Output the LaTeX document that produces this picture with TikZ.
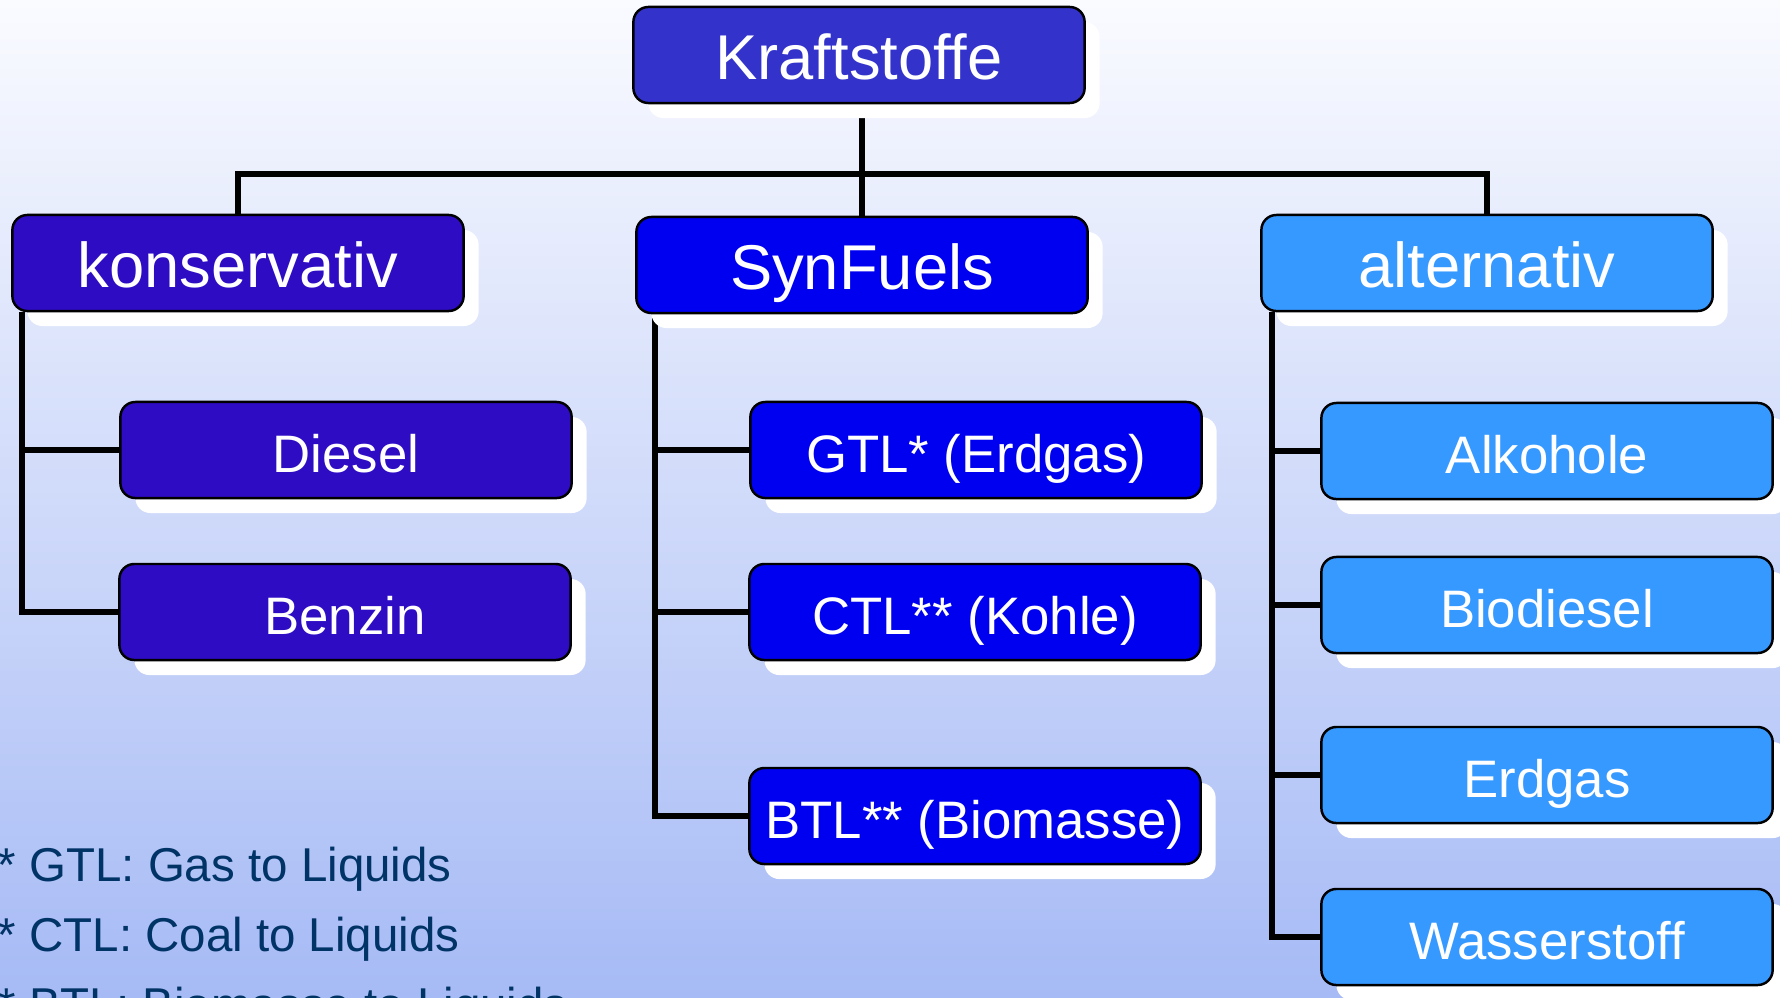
\documentclass[tikz,border=0pt]{standalone}
\usepackage{fontspec}
\setmainfont{Liberation Sans}
\usetikzlibrary{shadows}
\definecolor{kraftblue}{RGB}{51,51,204}
\definecolor{konsblue}{RGB}{46,12,196}
\definecolor{synblue}{RGB}{0,0,240}
\definecolor{altblue}{RGB}{54,153,255}
\definecolor{notenavy}{RGB}{0,51,102}
\definecolor{bgtop}{RGB}{250,251,255}
\definecolor{bgbottom}{RGB}{166,186,245}
\pgfdeclarelayer{bg}
\pgfdeclarelayer{lines}
\pgfsetlayers{bg,lines,main}

\begin{document}
\begin{tikzpicture}[x=0.01cm,y=-0.01cm,
	box/.style={draw=black,line width=0.7pt,rounded corners=0.15cm,text=white,
		minimum width=4.51cm,minimum height=0.96cm,inner sep=0pt,text depth=0pt,
		drop shadow={shadow xshift=0.15cm,shadow yshift=-0.15cm,fill=white,opacity=1}},
	head/.style={box,text height=13.8pt,font=\fontsize{18}{22}\selectfont},
	item/.style={box,text height=12.9pt,font=\fontsize{15}{18}\selectfont},
	link/.style={line width=1.8pt},
	note/.style={anchor=base west,inner sep=0pt,text=notenavy,font=\fontsize{13.5}{16}\selectfont}]
	\useasboundingbox (0,0) rectangle (1780,997);
	\clip (0,0) rectangle (1780,997);
	\begin{pgfonlayer}{bg}
		\fill[top color=bgtop,bottom color=bgbottom] (0,0) rectangle (1780,997);
	\end{pgfonlayer}
	% oberste Ebene
	\node[head,fill=kraftblue] (kraft) at (859,55) {Kraftstoffe};
	\node[head,fill=konsblue] (kons) at (238,263) {konservativ};
	\node[head,fill=synblue] (syn) at (862,265) {SynFuels};
	\node[head,fill=altblue] (alt) at (1487,263) {alternativ};
	% konservativ
	\node[item,fill=konsblue] (diesel) at (346,450) {Diesel};
	\node[item,fill=konsblue] (benzin) at (345,612) {Benzin};
	% SynFuels
	\node[item,fill=synblue] (gtl) at (976,450) {GTL* (Erdgas)};
	\node[item,fill=synblue] (ctl) at (975,612) {CTL** (Kohle)};
	\node[item,fill=synblue] (btl) at (975,816) {BTL** (Biomasse)};
	% alternativ
	\node[item,fill=altblue] (alkohole) at (1547,451) {Alkohole};
	\node[item,fill=altblue] (biodiesel) at (1547,605) {Biodiesel};
	\node[item,fill=altblue] (erdgas) at (1547,775) {Erdgas};
	\node[item,fill=altblue] (wasser) at (1547,937) {Wasserstoff};
	\begin{pgfonlayer}{lines}
		\draw[link] (kraft.south -| syn.north) -- ++(0,70) -| (kons.north);
		\draw[link] (kraft.south -| syn.north) -- ++(0,70) -| (alt.north);
		\draw[link] (kraft.south -| syn.north) -- (syn.north);
		\foreach \leaf in {diesel,benzin}
			\draw[link] ([xshift=0.11cm]kons.south west) |- (\leaf.west);
		\foreach \leaf in {gtl,ctl,btl}
			\draw[link] ([xshift=0.20cm]syn.south west) |- (\leaf.west);
		\foreach \leaf in {alkohole,biodiesel,erdgas,wasser}
			\draw[link] ([xshift=0.12cm]alt.south west) |- (\leaf.west);
	\end{pgfonlayer}
	% Fussnoten
	\node[note] (gtlnote) at (-3,881) {* GTL: Gas to Liquids};
	\node[note] (ctlnote) at (-3,951) {* CTL: Coal to Liquids};
	\node[note] (btlnote) at (-3,1021) {* BTL: Biomasse to Liquids};
\end{tikzpicture}
\end{document}
